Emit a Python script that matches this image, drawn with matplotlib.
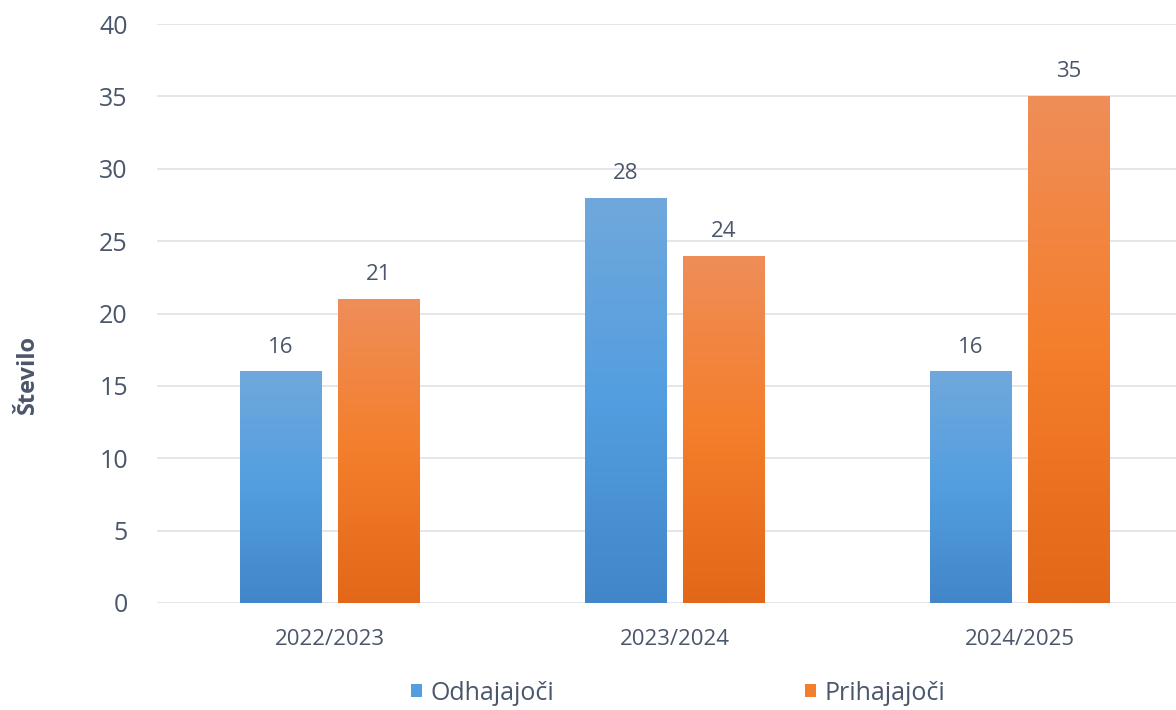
import matplotlib
matplotlib.use("Agg")
import matplotlib.pyplot as plt
import numpy as np
from matplotlib.colors import LinearSegmentedColormap
from matplotlib.patches import Patch

categories = ["2022/2023", "2023/2024", "2024/2025"]
odhajajoci = [16, 28, 16]
prihajajoci = [21, 24, 35]
series_names = ["Odhajajoči", "Prihajajoči"]
yticks = [0, 5, 10, 15, 20, 25, 30, 35, 40]

plt.rcParams['font.family'] = ['Open Sans', 'DejaVu Sans']
text_color = "#4a566a"

fig = plt.figure(figsize=(11.76, 7.10), dpi=100)
ax = fig.add_axes([157/1176, 1 - 603/710, 1035/1176, (603 - 24)/710])

x = np.arange(len(categories))
width = 0.235
off = 0.142

blue_cmap = LinearSegmentedColormap.from_list("b", ["#4186c8", "#539ee0", "#70a8dc"])
orange_cmap = LinearSegmentedColormap.from_list("o", ["#e36718", "#f47e2b", "#ef8e59"])

grad = np.linspace(0, 1, 256).reshape(-1, 1)

def grad_bars(xpos, vals, cmap, solid):
    bars = ax.bar(xpos, vals, width, color=solid, zorder=2, linewidth=0)
    for b in bars:
        x0, y0 = b.get_x(), b.get_y()
        w, h = b.get_width(), b.get_height()
        im = ax.imshow(grad, cmap=cmap, origin="lower", aspect="auto",
                       extent=[x0, x0 + w, y0, y0 + h], zorder=3)
        im.set_clip_path(b)
    for xi, v in zip(xpos, vals):
        ax.annotate(str(v), (xi, v), xytext=(0, 10), textcoords="offset points",
                    ha="center", va="bottom", fontsize=16, color=text_color, zorder=4)
    return bars

grad_bars(x - off, odhajajoci, blue_cmap, "#539ee0")
grad_bars(x + off, prihajajoci, orange_cmap, "#f47e2b")

ax.set_xlim(-0.5, 2.5)
ax.set_ylim(0, 40)
ax.set_yticks(yticks)
ax.set_xticks(x)
ax.set_xticklabels(categories)
ax.tick_params(axis="y", length=0, pad=21, labelsize=18, labelcolor=text_color)
ax.tick_params(axis="x", length=0, pad=19, labelsize=16, labelcolor=text_color)
ax.grid(axis="y", color="#e2e4e8", linewidth=1.3, zorder=0)
ax.set_axisbelow(True)
for s in ax.spines.values():
    s.set_visible(False)

fig.text(28/1176, 1 - 375/710, "Število", rotation=90, ha="center", va="center",
         fontsize=17, fontweight="bold", color=text_color)

handles = [Patch(facecolor="#539ee0"), Patch(facecolor="#f47e2b")]
fig.legend(handles, series_names, loc="center", bbox_to_anchor=(678/1176, 1 - 693/710),
           ncol=2, frameon=False, fontsize=18, handlelength=0.45, handleheight=0.45,
           handletextpad=0.35, columnspacing=10, labelcolor=text_color)

fig.savefig("out.png", dpi=100)
